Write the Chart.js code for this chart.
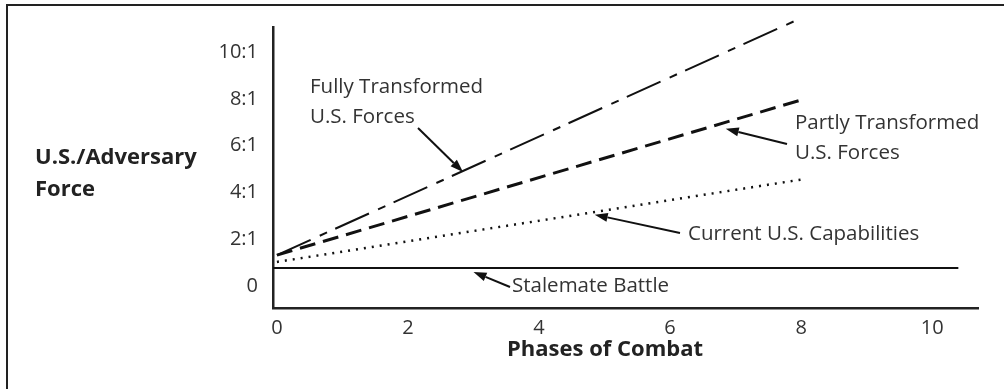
<!DOCTYPE html>
<html>
<head>
<meta charset="utf-8">
<title>Phases of Combat</title>
<script src="https://cdn.jsdelivr.net/npm/chart.js@4/dist/chart.umd.min.js"></script>
<style>
  html, body { margin: 0; padding: 0; background: #fff; }
  #frame {
    position: absolute; left: 6px; top: 4px; width: 998px; height: 385px;
    border-top: 2px solid #222; border-left: 2px solid #222;
  }
  #c { position: absolute; left: 0; top: 0; }
</style>
</head>
<body>
<div id="frame"></div>
<canvas id="c" width="1004" height="389"></canvas>
<script>
// Phase endpoints and force ratios for each capability curve
const phases = [0, 8];
const fullyTransformed = [1.32, 11.45];
const partlyTransformed = [1.32, 7.95];
const currentCapabilities = [1.03, 4.55];

// Stalemate reference line
const stalematePhases = [-0.06, 10.4];
const stalemateRatio = [0.77, 0.77];

// Axis ticks
const xTicks = [0, 2, 4, 6, 8, 10];
const yTicks = [0, 2, 4, 6, 8, 10];
const yTickLabels = ['0', '2:1', '4:1', '6:1', '8:1', '10:1'];

const FONT = '"Open Sans", "Noto Sans", sans-serif';
const INK = '#111';
const TEXT = '#333';

function pts(xs, ys) { return xs.map((x, i) => ({ x, y: ys[i] })); }

// Callout labels and arrows; arrow tips sit on the curves (data units)
const callouts = [
  { lines: ['Fully Transformed', 'U.S. Forces'], x: 310, y: 87, tail: [418, 128], tip: [2.84, 4.87] },
  { lines: ['Partly Transformed', 'U.S. Forces'], x: 795, y: 123, tail: [787, 144], tip: [6.85, 6.72] },
  { lines: ['Current U.S. Capabilities'], x: 688, y: 234, tail: [680, 233], tip: [4.85, 3.05] },
  { lines: ['Stalemate Battle'], x: 512, y: 286, tail: [510, 287], tip: [3.0, 0.6] }
];

const calloutPlugin = {
  id: 'callouts',
  afterDatasetsDraw(chart) {
    const { ctx, scales: { x, y } } = chart;
    ctx.save();
    ctx.font = '20.5px ' + FONT;
    ctx.textAlign = 'left';
    ctx.textBaseline = 'middle';
    callouts.forEach(c => {
      ctx.fillStyle = TEXT;
      c.lines.forEach((t, i) => ctx.fillText(t, c.x, c.y + i * 30));
      const tx = x.getPixelForValue(c.tip[0]);
      const ty = y.getPixelForValue(c.tip[1]);
      const [sx, sy] = c.tail;
      const ang = Math.atan2(ty - sy, tx - sx);
      const head = 13, half = 4.5;
      const bx = tx - head * Math.cos(ang), by = ty - head * Math.sin(ang);
      ctx.strokeStyle = INK;
      ctx.lineWidth = 2;
      ctx.beginPath();
      ctx.moveTo(sx, sy);
      ctx.lineTo(bx, by);
      ctx.stroke();
      ctx.fillStyle = INK;
      ctx.beginPath();
      ctx.moveTo(tx, ty);
      ctx.lineTo(bx + half * Math.sin(ang), by - half * Math.cos(ang));
      ctx.lineTo(bx - half * Math.sin(ang), by + half * Math.cos(ang));
      ctx.closePath();
      ctx.fill();
    });
    // Axis titles
    ctx.font = 'bold 22px ' + FONT;
    ctx.fillStyle = '#222';
    ctx.fillText('U.S./Adversary', 35, 158);
    ctx.fillText('Force', 35, 190);
    ctx.textAlign = 'center';
    ctx.fillText('Phases of Combat', 605, 350);
    ctx.restore();
  }
};

new Chart(document.getElementById('c'), {
  type: 'line',
  data: {
    datasets: [
      { label: 'Fully Transformed U.S. Forces', data: pts(phases, fullyTransformed),
        borderColor: INK, borderWidth: 2, borderDash: [37, 10, 8, 9], clip: false },
      { label: 'Partly Transformed U.S. Forces', data: pts(phases, partlyTransformed),
        borderColor: INK, borderWidth: 3, borderDash: [16, 8], clip: false },
      { label: 'Current U.S. Capabilities', data: pts(phases, currentCapabilities),
        borderColor: INK, borderWidth: 2.5, borderDash: [2, 6], clip: false },
      { label: 'Stalemate Battle', data: pts(stalematePhases, stalemateRatio),
        borderColor: INK, borderWidth: 2, clip: false }
    ]
  },
  options: {
    responsive: false,
    animation: false,
    elements: { point: { radius: 0 }, line: { tension: 0, borderCapStyle: 'butt' } },
    layout: { padding: { top: 27, right: 26, left: 0, bottom: 0 } },
    plugins: { legend: { display: false }, tooltip: { enabled: false } },
    scales: {
      x: {
        type: 'linear', min: -0.06, max: 10.7,
        afterBuildTicks: s => { s.ticks = xTicks.map(v => ({ value: v })); },
        afterFit: s => { s.height = 81; },
        grid: { display: false, drawTicks: false },
        border: { display: true, color: '#222', width: 2.5 },
        ticks: { font: { family: FONT, size: 20 }, color: TEXT, padding: 8, maxRotation: 0,
                 callback: v => String(v) },
        title: { display: false }
      },
      y: {
        type: 'linear', min: -0.94, max: 11.07,
        afterBuildTicks: s => { s.ticks = yTicks.map(v => ({ value: v })); },
        afterFit: s => { s.width = 273; },
        grid: { display: false, drawTicks: false },
        border: { display: true, color: '#222', width: 2.5 },
        ticks: { font: { family: FONT, size: 20 }, color: TEXT, padding: 15,
                 callback: v => yTickLabels[yTicks.indexOf(v)] }
      }
    }
  },
  plugins: [calloutPlugin]
});
</script>
</body>
</html>
